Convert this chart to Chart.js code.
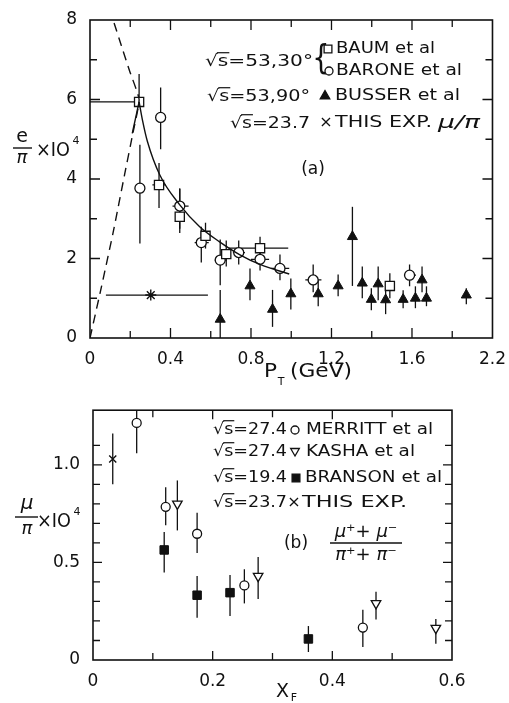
<!DOCTYPE html>
<html>
<head>
<meta charset="utf-8">
<script src="https://cdn.jsdelivr.net/npm/chart.js@4.4.0/dist/chart.umd.min.js"></script>
<style>
html, body { margin: 0; padding: 0; background: #fff; }
#wrap { position: relative; width: 509px; height: 703px; }
canvas { position: absolute; left: 0; }
#top { top: 0; }
#bot { top: 395px; }
</style>
</head>
<body>
<div id="wrap">
<canvas id="top" width="509" height="395"></canvas>
<canvas id="bot" width="509" height="308"></canvas>
</div>
<script>
// ---------- panel (a): e/pi vs PT ----------
var baumX   = [0.244, 0.343, 0.446, 0.574, 0.677, 0.845, 1.49];
var baumY   = [5.94, 3.85, 3.05, 2.57, 2.11, 2.26, 1.31];
var baumLo  = [5.94, 3.27, 2.64, 2.25, 1.80, 2.00, 1.00];
var baumHi  = [6.64, 4.40, 3.77, 2.90, 2.45, 2.55, 1.63];
var baumXLo = [0, 0.31, null, null, null, 0.69, null];
var baumXHi = [0.244, 0.375, null, null, null, 0.985, null];

var baroneX   = [0.248, 0.351, 0.446, 0.553, 0.647, 0.739, 0.845, 0.944, 1.109, 1.588];
var baroneY   = [3.77, 5.55, 3.32, 2.40, 1.96, 2.15, 1.98, 1.75, 1.46, 1.58];
var baroneLo  = [2.38, 4.75, 2.75, 1.90, 1.33, 1.85, 1.70, 1.45, 1.15, 1.30];
var baroneHi  = [4.86, 6.30, 3.75, 2.80, 2.48, 2.45, 2.25, 2.10, 1.85, 1.85];
var baroneXLo = [0.23, 0.33, 0.41, 0.52, 0.62, 0.71, 0.80, 0.90, 1.07, 1.56];
var baroneXHi = [0.27, 0.37, 0.49, 0.59, 0.68, 0.77, 0.89, 0.99, 1.15, 1.62];

var busserX  = [0.647, 0.795, 0.907, 0.998, 1.134, 1.233, 1.304, 1.353, 1.398, 1.432, 1.469, 1.556, 1.617, 1.65, 1.672, 1.87];
var busserY  = [0.47, 1.31, 0.72, 1.11, 1.11, 1.31, 2.55, 1.38, 0.97, 1.36, 0.96, 0.97, 1.00, 1.46, 1.00, 1.08];
var busserLo = [0.00, 0.95, 0.28, 0.72, 0.80, 1.05, 1.31, 1.00, 0.70, 0.95, 0.60, 0.75, 0.75, 1.15, 0.80, 0.85];
var busserHi = [1.21, 1.75, 1.21, 1.50, 1.45, 1.60, 3.30, 1.80, 1.25, 1.80, 1.25, 1.20, 1.30, 1.80, 1.30, 1.25];

var muTopX = [0.302], muTopY = [1.08], muTopXLo = [0.079], muTopXHi = [0.586];

// solid curve: short rise to the peak, then the falling branch
var riseX = [0.21, 0.244];
var riseY = [5.15, 5.94];
var fallX = [0.244, 0.262, 0.285, 0.347, 0.446, 0.545, 0.644, 0.743, 0.845, 0.99];
var fallY = [5.94, 5.45, 4.95, 4.10, 3.35, 2.80, 2.42, 2.10, 1.85, 1.61];
var dashX = [0, 0.05, 0.114, 0.173, 0.213, 0.244, 0.198, 0.156, 0.115];
var dashY = [0, 1.13, 2.63, 4.14, 5.15, 6.0, 6.7, 7.35, 8.0];

var topXTickVals   = [0, 0.4, 0.8, 1.2, 1.6, 2.0];
var topXTickLabels = ['0', '0.4', '0.8', '1.2', '1.6', '2.2'];
var topYTickVals   = [0, 2, 4, 6, 8];
var topYTickLabels = ['0', '2', '4', '6', '8'];

// ---------- panel (b): mu/pi vs XF ----------
var merrittX  = [0.073, 0.1215, 0.174, 0.253, 0.451];
var merrittY  = [1.215, 0.785, 0.647, 0.382, 0.166];
var merrittLo = [1.06, 0.69, 0.548, 0.29, 0.066];
var merrittHi = [1.28, 0.885, 0.755, 0.465, 0.257];

var kashaX  = [0.141, 0.276, 0.473, 0.573];
var kashaY  = [0.80, 0.43, 0.29, 0.163];
var kashaLo = [0.664, 0.312, 0.208, 0.083];
var kashaHi = [0.92, 0.528, 0.35, 0.21];

var bransonX  = [0.119, 0.174, 0.229, 0.36];
var bransonY  = [0.564, 0.332, 0.345, 0.108];
var bransonLo = [0.448, 0.216, 0.225, 0.041];
var bransonHi = [0.656, 0.43, 0.436, 0.174];

var muBotX = [0.033], muBotY = [1.03], muBotLo = [0.90], muBotHi = [1.16];

var botXTickVals   = [0, 0.2, 0.4, 0.6];
var botXTickLabels = ['0', '0.2', '0.4', '0.6'];
var botYTickVals   = [0, 0.5, 1.0];
var botYTickLabels = ['0', '0.5', '1.0'];

var FONT = '"DejaVu Sans"';
var INK = '#111';

function pts(xs, ys) {
	return xs.map(function(v, i) { return {x: v, y: ys[i]}; });
}
function pairs(lo, hi) {
	return lo.map(function(v, i) { return v === null ? null : [v, hi[i]]; });
}
function labeler(vals, labs) {
	return function(v) {
		for (var i = 0; i < vals.length; i++) {
			if (Math.abs(vals[i] - v) < 1e-6) return labs[i];
		}
		return '';
	};
}

// error bars drawn under the markers
var errorBars = {
	id: 'errorBars',
	beforeDatasetsDraw: function(chart) {
		var ctx = chart.ctx, x = chart.scales.x, y = chart.scales.y;
		ctx.save();
		ctx.strokeStyle = INK;
		ctx.lineWidth = 1.3;
		chart.data.datasets.forEach(function(ds) {
			if (!ds.errY && !ds.errX) return;
			ds.data.forEach(function(p, i) {
				var px = x.getPixelForValue(p.x), py = y.getPixelForValue(p.y);
				ctx.beginPath();
				if (ds.errY && ds.errY[i]) {
					ctx.moveTo(px, y.getPixelForValue(ds.errY[i][0]));
					ctx.lineTo(px, y.getPixelForValue(ds.errY[i][1]));
				}
				if (ds.errX && ds.errX[i]) {
					ctx.moveTo(x.getPixelForValue(ds.errX[i][0]), py);
					ctx.lineTo(x.getPixelForValue(ds.errX[i][1]), py);
				}
				ctx.stroke();
			});
		});
		ctx.restore();
	}
};

// box with inward ticks on all four sides
var frame = {
	id: 'frame',
	afterDatasetsDraw: function(chart, args, opts) {
		var ctx = chart.ctx, a = chart.chartArea, x = chart.scales.x, y = chart.scales.y;
		ctx.save();
		ctx.strokeStyle = INK;
		ctx.lineWidth = 1.6;
		ctx.strokeRect(a.left, a.top, a.right - a.left, a.bottom - a.top);
		ctx.lineWidth = 1.3;
		ctx.beginPath();
		x.ticks.forEach(function(t) {
			var px = x.getPixelForValue(t.value);
			if (px < a.left + 2 || px > a.right - 2) return;
			var len = t.label !== '' ? opts.major : opts.minor;
			ctx.moveTo(px, a.bottom); ctx.lineTo(px, a.bottom - len);
			ctx.moveTo(px, a.top); ctx.lineTo(px, a.top + len);
		});
		y.ticks.forEach(function(t) {
			var py = y.getPixelForValue(t.value);
			if (py < a.top + 2 || py > a.bottom - 2) return;
			var len = t.label !== '' ? opts.major : opts.minor;
			ctx.moveTo(a.left, py); ctx.lineTo(a.left + len, py);
			ctx.moveTo(a.right, py); ctx.lineTo(a.right - len, py);
		});
		ctx.stroke();
		ctx.restore();
	}
};

function fitText(ctx, s, x1, x2, y, size, italic) {
	ctx.font = (italic ? 'italic ' : '') + size + 'px ' + FONT;
	ctx.textBaseline = 'middle';
	ctx.textAlign = 'left';
	var w = ctx.measureText(s).width;
	var sc = (x2 - x1) / w;
	ctx.save();
	ctx.translate(x1, y);
	ctx.scale(sc, 1);
	ctx.fillText(s, 0, 0);
	ctx.restore();
	return sc;
}
function sqrtText(ctx, s, x1, x2, y, size) {
	var sc = fitText(ctx, s, x1, x2, y, size);
	var w1 = ctx.measureText('\u221A').width * sc;
	var w2 = ctx.measureText('\u221As').width * sc;
	ctx.beginPath();
	ctx.moveTo(x1 + w1 - 1, y - size * 0.58);
	ctx.lineTo(x1 + w2 + 1, y - size * 0.58);
	ctx.stroke();
}
function centerText(ctx, s, x, y, size, italic) {
	ctx.font = (italic ? 'italic ' : '') + size + 'px ' + FONT;
	ctx.textBaseline = 'middle';
	ctx.textAlign = 'center';
	ctx.fillText(s, x, y);
}
function marker(ctx, style, x, y, r, fill, rot) {
	ctx.save();
	ctx.fillStyle = fill;
	ctx.strokeStyle = INK;
	ctx.lineWidth = 1.3;
	if (Chart.helpers && Chart.helpers.drawPoint) {
		Chart.helpers.drawPoint(ctx, {pointStyle: style, radius: r, rotation: rot || 0, borderWidth: 1.3}, x, y);
	}
	ctx.restore();
}

var topText = {
	id: 'topText',
	afterDraw: function(chart) {
		var ctx = chart.ctx;
		ctx.save();
		ctx.fillStyle = INK;
		ctx.strokeStyle = INK;
		ctx.lineWidth = 1.2;
		// legend
		sqrtText(ctx, '\u221As=53,30\u00B0', 205, 313, 62, 16);
		ctx.font = '34px ' + FONT;
		ctx.textBaseline = 'middle'; ctx.textAlign = 'center';
		ctx.save(); ctx.translate(321, 60); ctx.scale(0.8, 1); ctx.fillText('{', 0, 0); ctx.restore();
		marker(ctx, 'rect', 328, 49, 5.5, '#fff');
		fitText(ctx, 'BAUM et al', 336, 435, 49, 16);
		marker(ctx, 'circle', 329, 71, 4, '#fff');
		fitText(ctx, 'BARONE et al', 336, 462, 71, 16);
		sqrtText(ctx, '\u221As=53,90\u00B0', 207, 310, 97, 16);
		marker(ctx, 'triangle', 325, 96, 5.5, INK);
		fitText(ctx, 'BUSSER et al', 335, 460, 96, 16);
		sqrtText(ctx, '\u221As=23.7', 230, 310, 124, 16);
		centerText(ctx, '\u00D7', 326, 123, 16);
		fitText(ctx, 'THIS EXP.', 335, 432, 123, 16);
		fitText(ctx, '\u03BC/\u03C0', 438, 480, 124, 17, true);
		centerText(ctx, '(a)', 313, 170, 17);
		// y title
		centerText(ctx, 'e', 22, 137, 19);
		ctx.lineWidth = 1.4;
		ctx.beginPath(); ctx.moveTo(13, 148); ctx.lineTo(32, 148); ctx.stroke();
		centerText(ctx, '\u03C0', 22, 158, 18, true);
		fitText(ctx, '\u00D7IO', 36, 70, 151, 19);
		centerText(ctx, '4', 76, 141, 11);
		// x title
		fitText(ctx, 'P', 264, 277, 372, 19);
		centerText(ctx, 'T', 281, 382, 11);
		fitText(ctx, '(GeV)', 290, 352, 372, 19);
		ctx.restore();
	}
};

var botText = {
	id: 'botText',
	afterDraw: function(chart) {
		var ctx = chart.ctx;
		var o = -395;
		ctx.save();
		ctx.fillStyle = INK;
		ctx.strokeStyle = INK;
		ctx.lineWidth = 1.2;
		sqrtText(ctx, '\u221As=27.4', 213, 287, 430 + o, 16);
		marker(ctx, 'circle', 295, 430 + o, 4, '#fff');
		fitText(ctx, 'MERRITT et al', 306, 433, 430 + o, 16);
		sqrtText(ctx, '\u221As=27.4', 213, 287, 452 + o, 16);
		marker(ctx, 'triangle', 295, 451 + o, 5, '#fff', 180);
		fitText(ctx, 'KASHA et al', 306, 415, 452 + o, 16);
		sqrtText(ctx, '\u221As=19.4', 213, 287, 478 + o, 16);
		marker(ctx, 'rect', 296, 478 + o, 5.5, INK);
		fitText(ctx, 'BRANSON et al', 305, 442, 478 + o, 16);
		sqrtText(ctx, '\u221As=23.7', 213, 287, 503 + o, 16);
		centerText(ctx, '\u00D7', 294, 503 + o, 16);
		fitText(ctx, 'THIS EXP.', 302, 407, 503 + o, 16);
		centerText(ctx, '(b)', 296, 544 + o, 17);
		// ratio
		centerText(ctx, '\u03BC\u207A+ \u03BC\u207B', 366, 532 + o, 18, true);
		ctx.lineWidth = 1.3;
		ctx.beginPath(); ctx.moveTo(330, 543 + o); ctx.lineTo(402, 543 + o); ctx.stroke();
		centerText(ctx, '\u03C0\u207A+ \u03C0\u207B', 366, 555 + o, 18, true);
		// y title
		centerText(ctx, '\u03BC', 27, 504 + o, 20, true);
		ctx.lineWidth = 1.4;
		ctx.beginPath(); ctx.moveTo(15, 517 + o); ctx.lineTo(38, 517 + o); ctx.stroke();
		centerText(ctx, '\u03C0', 27, 529 + o, 18, true);
		fitText(ctx, '\u00D7IO', 37, 71, 522 + o, 19);
		centerText(ctx, '4', 77, 512 + o, 11);
		// x title
		fitText(ctx, 'X', 276, 289, 692 + o, 19);
		centerText(ctx, 'F', 294, 698 + o, 11);
		ctx.restore();
	}
};

function tickFont() {
	return {family: FONT, size: 17};
}

var chartTop = new Chart(document.getElementById('top'), {
	type: 'scatter',
	data: {
		datasets: [
			{ data: pts(dashX, dashY), showLine: true, borderColor: INK, borderWidth: 1.4,
			  borderDash: [9, 6], pointRadius: 0, tension: 0.15 },
			{ data: pts(riseX, riseY), showLine: true, borderColor: INK, borderWidth: 1.4,
			  pointRadius: 0 },
			{ data: pts(fallX, fallY), showLine: true, borderColor: INK, borderWidth: 1.4,
			  pointRadius: 0, cubicInterpolationMode: 'monotone' },
			{ label: 'BAUM et al', data: pts(baumX, baumY), pointStyle: 'rect', pointRadius: 6.5,
			  pointBackgroundColor: '#fff', pointBorderColor: INK, pointBorderWidth: 1.3,
			  errY: pairs(baumLo, baumHi), errX: pairs(baumXLo, baumXHi) },
			{ label: 'BARONE et al', data: pts(baroneX, baroneY), pointStyle: 'circle', pointRadius: 5,
			  pointBackgroundColor: '#fff', pointBorderColor: INK, pointBorderWidth: 1.3,
			  errY: pairs(baroneLo, baroneHi), errX: pairs(baroneXLo, baroneXHi) },
			{ label: 'BUSSER et al', data: pts(busserX, busserY), pointStyle: 'triangle', pointRadius: 5.8,
			  pointBackgroundColor: INK, pointBorderColor: INK, pointBorderWidth: 1,
			  errY: pairs(busserLo, busserHi) },
			{ label: 'THIS EXP.', data: pts(muTopX, muTopY), pointStyle: 'star', pointRadius: 5.5,
			  pointBorderColor: INK, pointBorderWidth: 1.4,
			  errX: pairs(muTopXLo, muTopXHi) }
		]
	},
	options: {
		responsive: false,
		animation: false,
		layout: { padding: { left: 0, right: 15, top: 20, bottom: 0 } },
		plugins: { legend: { display: false }, tooltip: { enabled: false }, frame: { major: 10, minor: 7 } },
		scales: {
			x: {
				min: 0, max: 2.0,
				grid: { display: false },
				border: { display: false },
				afterFit: function(s) { s.height = 57; },
				ticks: { stepSize: 0.2, autoSkip: false, maxRotation: 0, padding: 3,
				         color: INK, font: tickFont(), callback: labeler(topXTickVals, topXTickLabels) }
			},
			y: {
				min: 0, max: 8,
				grid: { display: false },
				border: { display: false },
				afterFit: function(s) { s.width = 90; },
				ticks: { stepSize: 1, autoSkip: false, padding: 5,
				         color: INK, font: tickFont(), callback: labeler(topYTickVals, topYTickLabels) }
			}
		}
	},
	plugins: [errorBars, frame, topText]
});

var chartBot = new Chart(document.getElementById('bot'), {
	type: 'scatter',
	data: {
		datasets: [
			{ label: 'MERRITT et al', data: pts(merrittX, merrittY), pointStyle: 'circle', pointRadius: 4.5,
			  pointBackgroundColor: '#fff', pointBorderColor: INK, pointBorderWidth: 1.3,
			  errY: pairs(merrittLo, merrittHi) },
			{ label: 'KASHA et al', data: pts(kashaX, kashaY), pointStyle: 'triangle', pointRotation: 180,
			  pointRadius: 5.5, pointBackgroundColor: '#fff', pointBorderColor: INK, pointBorderWidth: 1.3,
			  errY: pairs(kashaLo, kashaHi) },
			{ label: 'BRANSON et al', data: pts(bransonX, bransonY), pointStyle: 'rect', pointRadius: 6,
			  pointBackgroundColor: INK, pointBorderColor: INK, pointBorderWidth: 1,
			  errY: pairs(bransonLo, bransonHi) },
			{ label: 'THIS EXP.', data: pts(muBotX, muBotY), pointStyle: 'crossRot', pointRadius: 5,
			  pointBorderColor: INK, pointBorderWidth: 1.4,
			  errY: pairs(muBotLo, muBotHi) }
		]
	},
	options: {
		responsive: false,
		animation: false,
		layout: { padding: { left: 0, right: 57, top: 8, bottom: 0 } },
		plugins: { legend: { display: false }, tooltip: { enabled: false }, frame: { major: 9, minor: 7 } },
		scales: {
			x: {
				min: 0, max: 0.6,
				grid: { display: false },
				border: { display: false },
				afterFit: function(s) { s.height = 43; },
				ticks: { stepSize: 0.1, autoSkip: false, maxRotation: 0, padding: 3,
				         color: INK, font: tickFont(), callback: labeler(botXTickVals, botXTickLabels) }
			},
			y: {
				min: 0, max: 1.28,
				grid: { display: false },
				border: { display: false },
				afterFit: function(s) { s.width = 93; },
				ticks: { stepSize: 0.1, autoSkip: false, padding: 5,
				         color: INK, font: tickFont(), callback: labeler(botYTickVals, botYTickLabels) }
			}
		}
	},
	plugins: [errorBars, frame, botText]
});
</script>
</body>
</html>
